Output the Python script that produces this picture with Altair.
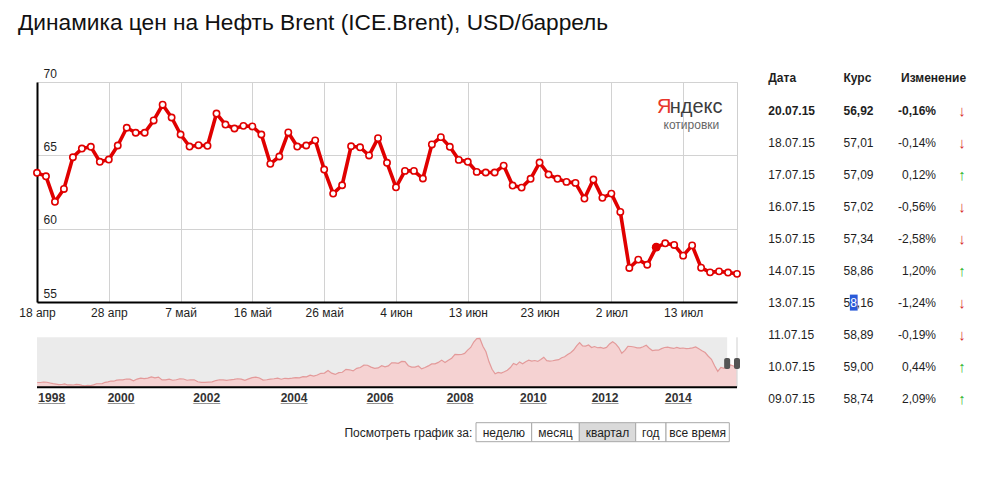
import altair as alt
import pandas as pd

# ---------------- data ----------------
# Brent closes, quarter view (one value per trading day shown, 18 Apr .. 20 Jul 2015)
brent_close = [63.81, 63.57, 61.83, 62.71, 64.87, 65.46, 65.58, 64.56, 64.71, 65.67,
               66.88, 66.54, 66.54, 67.38, 68.45, 67.58, 66.42, 65.60, 65.69, 65.65,
               67.85, 67.10, 66.83, 67.01, 66.97, 66.42, 64.42, 64.92, 66.56, 65.60,
               65.67, 66.02, 64.03, 62.39, 62.96, 65.62, 65.55, 64.99, 66.17, 64.49,
               62.82, 63.94, 63.94, 63.42, 65.74, 66.24, 65.58, 64.69, 64.56, 63.87,
               63.83, 63.83, 64.30, 62.94, 62.80, 63.40, 64.51, 63.69, 63.40, 63.19,
               63.12, 62.05, 63.35, 62.10, 62.39, 61.14, 57.32, 57.89, 57.54, 58.74,
               59.00, 58.89, 58.16, 58.86, 57.34, 57.02, 57.09, 57.01, 56.92]
x_tick_index = [0, 8, 16, 24, 32, 40, 48, 56, 64, 72]
x_tick_labels = ["18 апр", "28 апр", "7 май", "16 май", "26 май",
                 "4 июн", "13 июн", "23 июн", "2 июл", "13 июл"]
y_ticks = [55, 60, 65, 70]
highlight_index = 69

# table on the right
table_dates = ["20.07.15", "18.07.15", "17.07.15", "16.07.15", "15.07.15",
               "14.07.15", "13.07.15", "11.07.15", "10.07.15", "09.07.15"]
table_rates = [56.92, 57.01, 57.09, 57.02, 57.34, 58.86, 58.16, 58.89, 59.00, 58.74]
table_changes = [-0.16, -0.14, 0.12, -0.56, -2.58, 1.20, -1.24, -0.19, 0.44, 2.09]
table_headers = ["Дата", "Курс", "Изменение"]
selected_row = 6          # row whose rate has the text-selection on its 2nd digit

# overview (all time) monthly values
overview_first_month = (1997, 8)
overview_prices = {
    1997: [18.6, 18.6, 19.9, 19.2, 17.3],
    1998: [15.5, 14.3, 13.1, 13.4, 14.9, 12.1, 12.1, 12.0, 13.4, 12.8, 11.0, 9.8],
    1999: [11.1, 10.3, 12.5, 15.3, 15.3, 15.7, 19.1, 20.3, 22.5, 22.0, 24.6, 25.6],
    2000: [25.5, 27.8, 27.5, 22.8, 27.6, 29.8, 28.7, 30.0, 33.0, 30.9, 32.6, 25.3],
    2001: [25.6, 27.5, 24.5, 25.7, 28.4, 27.7, 24.5, 25.8, 25.6, 20.5, 18.9, 18.7],
    2002: [19.4, 20.3, 23.7, 25.7, 25.4, 24.1, 25.7, 26.6, 28.4, 27.5, 24.3, 28.0],
    2003: [31.2, 32.8, 30.3, 25.0, 25.8, 27.6, 28.4, 29.8, 27.1, 29.6, 28.8, 29.8],
    2004: [31.2, 30.9, 33.8, 33.4, 37.6, 35.2, 38.2, 42.7, 43.2, 49.8, 43.1, 39.7],
    2005: [44.3, 45.5, 53.1, 51.9, 49.0, 55.6, 57.9, 63.9, 63.8, 58.9, 55.5, 56.7],
    2006: [62.5, 59.7, 62.1, 70.2, 69.8, 68.7, 73.7, 73.2, 62.5, 58.9, 59.1, 62.0],
    2007: [54.3, 57.8, 62.1, 67.4, 67.5, 71.3, 77.2, 70.8, 77.1, 82.3, 92.5, 91.5],
    2008: [92.0, 94.8, 103.3, 110.4, 124.6, 133.5, 133.9, 113.4, 99.1, 72.8, 53.2, 41.3],
    2009: [44.9, 43.2, 46.8, 50.8, 57.9, 68.6, 64.9, 72.5, 67.7, 73.2, 77.0, 74.7],
    2010: [76.2, 73.8, 78.8, 84.8, 75.9, 74.8, 75.6, 77.1, 78.4, 83.5, 86.1, 92.0],
    2011: [96.5, 103.7, 114.6, 123.3, 114.5, 113.9, 116.7, 110.2, 112.8, 109.6, 110.5, 107.9],
    2012: [110.6, 119.7, 125.4, 119.8, 110.3, 95.2, 102.6, 113.4, 112.9, 111.5, 109.5, 109.2],
    2013: [112.3, 116.1, 108.5, 102.3, 103.3, 103.3, 107.4, 110.3, 111.2, 109.5, 107.8, 110.6],
    2014: [108.1, 108.9, 107.5, 107.8, 109.5, 111.9, 106.8, 101.6, 97.1, 87.4, 79.4, 62.3],
    2015: [47.8, 58.1, 55.9, 59.5, 64.6, 61.7, 57.0],
}
overview_years = [1998, 2000, 2002, 2004, 2006, 2008, 2010, 2012, 2014]
overview_start, window_start, overview_end = 1997.62, 2015.29, 2015.55

period_buttons = ["неделю", "месяц", "квартал", "год", "все время"]
active_button = "квартал"

title_text = "Динамика цен на Нефть Brent (ICE.Brent), USD/баррель"

# ---------------- layout (pixels, relative to main plot origin) ----------------
FONT = "Liberation Sans"
W, H = 700, 220
RED = "#e00000"
TXT = "#1e1e1e"
MINI_TOP, MINI_BOT = 255.3, 305.3
MINI_X_RANGE = [0, 14.7, 84, 169.7, 257, 343, 423, 496.3, 568, 641.3, 700]
TBL_ROW0, TBL_ROW9 = 28.7, 317.0
COL_DATE, COL_RATE, COL_CHG, COL_ARROW, COL_CHG_HDR = 731.3, 806.5, 899.0, 925.0, 864.0
DIGIT_W = 6.67
BTN_EDGES = [439, 494.7, 542.3, 598.7, 629, 692.3]
BTN_TOP, BTN_BOT = 340.7, 359.7

one = alt.Data(values=[{}])

# ---------------- main chart ----------------
main_df = pd.DataFrame({"i": range(len(brent_close)), "v": brent_close})
label_expr = ("[" + ",".join("'%s'" % s for s in x_tick_labels) + "][indexof(["
              + ",".join(str(t) for t in x_tick_index) + "], datum.value)]")

xm = alt.X("i:Q", scale=alt.Scale(domain=[0, len(brent_close) - 1], nice=False, zero=False),
           axis=alt.Axis(values=x_tick_index, labelExpr=label_expr, title=None, grid=True,
                         gridColor="#d2d2d2", domainColor="#000", domainWidth=2, ticks=False,
                         tickSize=0, labelFontSize=12, labelColor=TXT, labelPadding=5,
                         labelFlush=False, labelOverlap=False))
ym = alt.Y("v:Q", scale=alt.Scale(domain=[55, 70], nice=False, zero=False),
           axis=alt.Axis(values=y_ticks, title=None, grid=True, gridColor="#d2d2d2",
                         domainColor="#000", domainWidth=2, ticks=False, tickSize=0,
                         labelAlign="left", labelBaseline="alphabetic", labelPadding=-6,
                         labelOffset=-5, labelFontSize=12, labelColor=TXT))

base = alt.Chart(main_df).encode(x=xm, y=ym)
main = alt.layer(
    base.mark_line(color=RED, strokeWidth=3.6, strokeJoin="round"),
    base.mark_circle(fill="white", stroke=RED, strokeWidth=1.6, size=40, opacity=1),
    base.transform_filter(alt.datum.i == highlight_index).mark_circle(color=RED, size=78, opacity=1),
)

# ---------------- overview chart ----------------
rows = []
y0, m0 = overview_first_month
for yr, vals in overview_prices.items():
    start_m = m0 if yr == y0 else 1
    for k, val in enumerate(vals):
        rows.append({"t": yr + (start_m + k - 0.5) / 12.0, "p": val})
ov_df = pd.DataFrame(rows)

xs = alt.Scale(domain=[overview_start] + overview_years + [overview_end],
               range=MINI_X_RANGE, nice=False, zero=False)
ys = alt.Scale(domain=[6, 137], range=[MINI_BOT, MINI_TOP], nice=False, zero=False)

spans = pd.DataFrame({"a": [overview_start], "b": [window_start]})
handles = pd.DataFrame({"t": [window_start, overview_end]})
years_df = pd.DataFrame({"t": overview_years, "lab": [str(y) for y in overview_years]})

mini = alt.layer(
    alt.Chart(spans).mark_rect(color="#ebebeb").encode(
        x=alt.X("a:Q", scale=xs, axis=None), x2="b:Q",
        y=alt.value(MINI_TOP), y2=alt.value(MINI_BOT)),
    alt.Chart(ov_df).mark_area(color="#f5d2d2", opacity=1).encode(
        x=alt.X("t:Q", scale=xs, axis=None),
        y=alt.Y("p:Q", scale=ys, axis=None), y2=alt.datum(6)),
    alt.Chart(ov_df).mark_line(color="#e39a9a", strokeWidth=1.2).encode(
        x=alt.X("t:Q", scale=xs, axis=None),
        y=alt.Y("p:Q", scale=ys, axis=None)),
    alt.Chart(one).mark_rule(color="#cfcfcf").encode(
        x=alt.value(W), y=alt.value(MINI_TOP), y2=alt.value(MINI_BOT)),
    alt.Chart(one).mark_rule(color="#000", strokeWidth=2).encode(
        x=alt.value(0), x2=alt.value(W), y=alt.value(MINI_BOT)),
    alt.Chart(handles).mark_rect(color="#555", width=6, cornerRadius=2).encode(
        x=alt.X("t:Q", scale=xs, axis=None),
        y=alt.value(276), y2=alt.value(287)),
    alt.Chart(years_df).mark_text(fontSize=12, fontWeight="bold", color="#333",
                                  baseline="alphabetic", align="center").encode(
        x=alt.X("t:Q", scale=xs, axis=None), y=alt.value(319.7), text="lab:N"),
    alt.Chart(years_df).mark_text(fontSize=12, fontWeight="bold", color="#333",
                                  baseline="alphabetic", align="center", text="____").encode(
        x=alt.X("t:Q", scale=xs, axis=None), y=alt.value(319.7)),
)

# ---------------- table ----------------
def fmt_num(v):
    return ("%.2f" % v).replace(".", ",")

tbl_df = pd.DataFrame({
    "r": range(len(table_dates)),
    "date": table_dates,
    "rate": [fmt_num(v) for v in table_rates],
    "chg": [fmt_num(v) + "%" for v in table_changes],
    "dir": ["up" if v > 0 else "down" for v in table_changes],
    "arrow": ["↑" if v > 0 else "↓" for v in table_changes],
})
ty = alt.Y("r:Q", scale=alt.Scale(domain=[0, len(table_dates) - 1], range=[TBL_ROW0, TBL_ROW9],
                                  nice=False, zero=False), axis=None)

table_layers = []
for col, xpos, align in [("date", COL_DATE, "left"), ("rate", COL_RATE, "left"), ("chg", COL_CHG, "right")]:
    for bold in (True, False):
        cond = (alt.datum.r == 0) if bold else (alt.datum.r > 0)
        if col == "rate" and not bold:
            cond = (alt.datum.r > 0) & (alt.datum.r != selected_row)
        table_layers.append(
            alt.Chart(tbl_df).transform_filter(cond).mark_text(
                align=align, baseline="middle", fontSize=12, color=TXT,
                fontWeight="bold" if bold else "normal").encode(
                x=alt.value(xpos), y=ty, text=col + ":N"))
table_layers.append(
    alt.Chart(tbl_df).mark_text(align="center", baseline="middle", fontSize=15).encode(
        x=alt.value(COL_ARROW), y=ty, text="arrow:N",
        color=alt.Color("dir:N", scale=alt.Scale(domain=["up", "down"], range=["#2fb52f", "#d83030"]),
                        legend=None)))
for h, xpos in zip(table_headers, [COL_DATE, COL_RATE, COL_CHG_HDR]):
    table_layers.append(
        alt.Chart(one).mark_text(align="left", baseline="middle", fontSize=12, fontWeight="bold",
                                 color=TXT, text=h).encode(x=alt.value(xpos), y=alt.value(-3.7)))

# rate of the selected row, drawn in three pieces with a selection box behind its 2nd digit
sel_rate = fmt_num(table_rates[selected_row])
sel_y = TBL_ROW0 + selected_row * (TBL_ROW9 - TBL_ROW0) / (len(table_dates) - 1)
table_layers.append(
    alt.Chart(one).mark_rect(color="#2a5ad8").encode(
        x=alt.value(COL_RATE + DIGIT_W - 0.3), x2=alt.value(COL_RATE + 2 * DIGIT_W + 0.8),
        y=alt.value(sel_y - 8.3), y2=alt.value(sel_y + 7.7)))
for piece, off, colr in [(sel_rate[0], 0, TXT), (sel_rate[1], DIGIT_W, "white"), (sel_rate[2:], 2 * DIGIT_W, TXT)]:
    table_layers.append(
        alt.Chart(one).mark_text(align="left", baseline="middle", fontSize=12, color=colr,
                                 text=piece).encode(x=alt.value(COL_RATE + off), y=alt.value(sel_y)))

# ---------------- decorations ----------------
deco = [
    alt.Chart(one).mark_text(align="left", baseline="alphabetic", fontSize=22.7, color="#111",
                             text=title_text).encode(x=alt.value(-19), y=alt.value(-52)),
    alt.Chart(one).mark_text(align="right", baseline="alphabetic", fontSize=20, color="#e8352b",
                             font="Liberation Sans Narrow, Arial Narrow, Liberation Sans",
                             text="Я").encode(x=alt.value(634.5), y=alt.value(31.3)),
    alt.Chart(one).mark_text(align="right", baseline="alphabetic", fontSize=20, color="#3c3c3c",
                             font="Liberation Sans Narrow, Arial Narrow, Liberation Sans",
                             text="ндекс").encode(x=alt.value(685.5), y=alt.value(31.3)),
    alt.Chart(one).mark_text(align="center", baseline="alphabetic", fontSize=12, color="#666",
                             text="котировки").encode(x=alt.value(654.4), y=alt.value(47)),
    alt.Chart(one).mark_text(align="right", baseline="middle", fontSize=12, color=TXT,
                             text="Посмотреть график за:").encode(x=alt.value(435.3), y=alt.value(350.5)),
]
for k, name in enumerate(period_buttons):
    a, b = BTN_EDGES[k], BTN_EDGES[k + 1]
    deco.append(alt.Chart(one).mark_rect(
        fill="#dadada" if name == active_button else "white", stroke="#a8a8a8", strokeWidth=1).encode(
        x=alt.value(a), x2=alt.value(b), y=alt.value(BTN_TOP), y2=alt.value(BTN_BOT)))
    deco.append(alt.Chart(one).mark_text(align="center", baseline="middle", fontSize=12, color=TXT,
                                         text=name).encode(x=alt.value((a + b) / 2), y=alt.value(350.5)))

chart = alt.layer(main, mini, *table_layers, *deco).resolve_scale(
    x="independent", y="independent", color="independent"
).properties(
    width=W, height=H,
    padding={"left": 29, "top": 74, "right": 250, "bottom": 165},
    autosize=alt.AutoSizeParams(type="none"),
).configure(font=FONT).configure_view(stroke="#cfcfcf", strokeWidth=1)

chart.save("out.html", embed_options={"renderer": "svg", "actions": False})
